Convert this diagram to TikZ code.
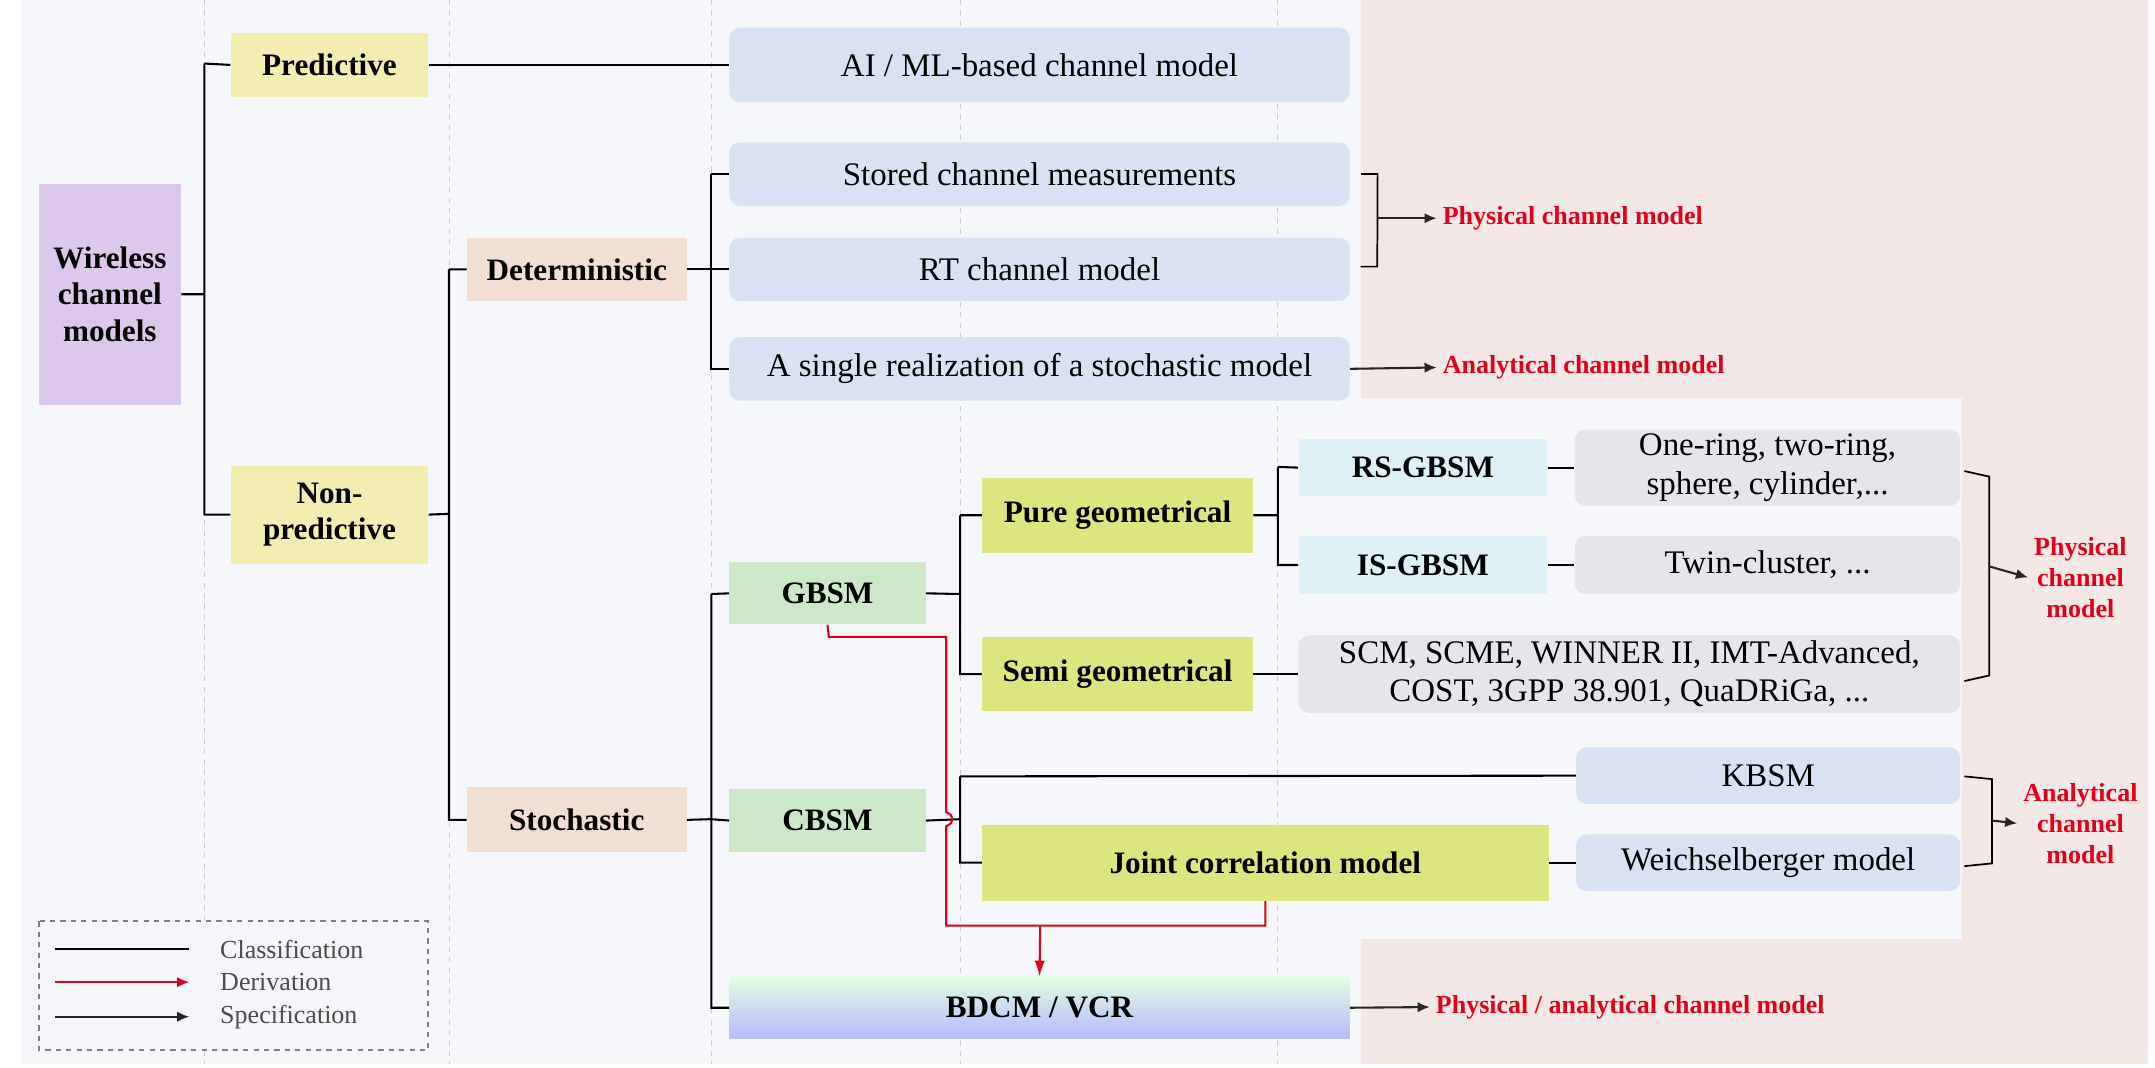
\documentclass[tikz,border=0pt]{standalone}
\usepackage{fontspec}
\setmainfont{Liberation Serif}
\usetikzlibrary{arrows.meta}

\definecolor{bgpanel}{HTML}{F5F7FA}
\definecolor{pinkbg}{HTML}{F3E8E5}
\definecolor{purplebox}{HTML}{DCC8EA}
\definecolor{yellowbox}{HTML}{F3EDB2}
\definecolor{beigebox}{HTML}{F2DED3}
\definecolor{bluebox}{HTML}{D9E2F3}
\definecolor{greenbox}{HTML}{CDE8C8}
\definecolor{limebox}{HTML}{DCE57E}
\definecolor{cyanbox}{HTML}{DDF1F7}
\definecolor{graybox}{HTML}{E4E6EB}
\definecolor{redtext}{HTML}{E0001B}

\newcommand{\unitlen}{0.028cm}
% box by its corners: name, x1, y1, x2, y2, style, text
\newcommand{\bx}[7]{%
  \node[#6, minimum width={(#4-#2)*\unitlen}, minimum height={(#5-#3)*\unitlen}]
    (#1) at ({(#2+#4)/2},{(#3+#5)/2}) {#7};}

\begin{document}
\begin{tikzpicture}[x=0.028cm, y=-0.028cm,
    base/.style={inner sep=0pt, align=center, font=\fontsize{19}{22}\selectfont},
    catbox/.style={base, fill=#1, font=\fontsize{18}{21}\selectfont\bfseries},
    leafbox/.style={base, fill=#1, rounded corners=6pt},
    redlabel/.style={text=redtext, align=center, font=\fontsize{15}{18}\selectfont\bfseries},
    classify/.style={line width=1.2pt, black},
    derive/.style={line width=1.2pt, redtext},
    specify/.style={line width=1.2pt, black!85, -{Latex[length=7pt,width=6pt]}},
    guide/.style={black!20, dashed, line width=0.4pt}]

    % panels
    \useasboundingbox (0,0) rectangle (1560,773);
    \fill[white] (0,0) rectangle (1560,773);
    \fill[bgpanel] (15,0) rectangle (1555,770);
    \fill[pinkbg] (985,0) rectangle (1555,288);
    \fill[pinkbg] (1420,288) rectangle (1555,680);
    \fill[pinkbg] (985,680) rectangle (1555,770);
    \foreach \gx in {148,325,515,695,925}
        \draw[guide] (\gx,0) -- (\gx,770);

    % boxes
    \bx{wcm}{28}{133}{131}{293}{catbox=purplebox}{Wireless\\channel\\models}
    \bx{pred}{167}{24}{310}{70}{catbox=yellowbox}{Predictive}
    \bx{nonpred}{167}{337}{310}{408}{catbox=yellowbox}{Non-\\predictive}
    \bx{det}{338}{172}{497}{218}{catbox=beigebox}{Deterministic}
    \bx{sto}{338}{570}{497}{617}{catbox=beigebox}{Stochastic}
    \bx{aiml}{528}{20}{977}{74}{leafbox=bluebox}{AI / ML-based channel model}
    \bx{stored}{528}{103}{977}{149}{leafbox=bluebox}{Stored channel measurements}
    \bx{rt}{528}{172}{977}{218}{leafbox=bluebox}{RT channel model}
    \bx{single}{528}{244}{977}{290}{leafbox=bluebox}{A single realization of a stochastic model}
    \bx{gbsm}{528}{407}{670}{452}{catbox=greenbox}{GBSM}
    \bx{cbsm}{528}{571}{670}{617}{catbox=greenbox}{CBSM}
    \bx{bdcm}{528}{707}{977}{752}{catbox=white, top color=green!12, bottom color=blue!28}{BDCM / VCR}
    \bx{pure}{711}{346}{907}{400}{catbox=limebox}{Pure geometrical}
    \bx{semi}{711}{461}{907}{515}{catbox=limebox}{Semi geometrical}
    \bx{joint}{711}{597}{1121}{652}{catbox=limebox}{Joint correlation model}
    \bx{rsgbsm}{940}{318}{1120}{359}{catbox=cyanbox}{RS-GBSM}
    \bx{isgbsm}{940}{388}{1120}{430}{catbox=cyanbox}{IS-GBSM}
    \bx{ring}{1140}{311}{1419}{366}{leafbox=graybox}{One-ring, two-ring,\\sphere, cylinder,...}
    \bx{twin}{1140}{388}{1419}{430}{leafbox=graybox}{Twin-cluster, ...}
    \bx{scm}{940}{460}{1419}{516}{leafbox=graybox}{SCM, SCME, WINNER II, IMT-Advanced,\\COST, 3GPP 38.901, QuaDRiGa, ...}
    \bx{kbsm}{1141}{541}{1419}{582}{leafbox=bluebox}{KBSM}
    \bx{weich}{1141}{604}{1419}{645}{leafbox=bluebox}{Weichselberger model}

    % classification tree
    \draw[classify] (wcm.east) -- (148,213) (148,46) |- (nonpred.west) (148,46) -- (pred.west);
    \draw[classify] (pred.east) -- (aiml.west);
    \draw[classify] (nonpred.east) -- (325,372) (325,195) |- (sto.west) (325,195) -- (det.west);
    \draw[classify] (det.east) -- (515,195) (515,126) |- (single.west) (515,126) -- (stored.west) (515,195) -- (rt.west);
    \draw[classify] (sto.east) -- (515,593) (515,430) |- (bdcm.west) (515,430) -- (gbsm.west) (515,593) -- (cbsm.west);
    \draw[classify] (gbsm.east) -- (695,430) (695,373) |- (semi.west) (695,373) -- (pure.west);
    \draw[classify] (pure.east) -- (925,373) (925,338) |- (isgbsm.west) (925,338) -- (rsgbsm.west);
    \draw[classify] (rsgbsm.east) -- (ring.west);
    \draw[classify] (isgbsm.east) -- (twin.west);
    \draw[classify] (semi.east) -- (scm.west);
    \draw[classify] (cbsm.east) -- (695,593) (695,562) |- (joint.west) (695,562) -- (kbsm.west);
    \draw[classify] (joint.east) -- (weich.west);

    % derivation
    \draw[derive] (gbsm.south) -- (600,461) -- (685,461) -- (685,588)
        .. controls (691,590) and (691,596) .. (685,598) -- (685,670) -| (joint.south);
    \draw[derive, -{Latex[length=9pt,width=6pt]}] (753,670) -- (bdcm.north);

    % specification
    \node[redlabel, anchor=west] (phys1) at (1040,158) {Physical channel model};
    \node[redlabel, anchor=west] (ana1) at (1040,266) {Analytical channel model};
    \node[redlabel] (phys2) at (1506,418) {Physical\\channel\\model};
    \node[redlabel] (ana2) at (1506,596) {Analytical\\channel\\model};
    \node[redlabel, anchor=west] (physana) at (1035,729) {Physical / analytical channel model};
    \draw[classify, line width=1pt] (stored.east) ++(8,0) -- ++(12,0) -- (997,193) -- (985,193);
    \draw[specify] (997,158) -- (phys1.west);
    \draw[specify] (single.east) -- (ana1.west);
    \draw[classify, line width=1pt] (1422,341) -- (1440,345) -- (1440,489) -- (1422,493);
    \draw[specify] (1440,410) -- (phys2.west);
    \draw[classify, line width=1pt] (1422,562) -- (1442,564) -- (1442,625) -- (1422,627);
    \draw[specify] (1442,594) -- (ana2.west);
    \draw[specify] (bdcm.east) -- (physana.west);

    % legend
    \draw[black!50, dashed, line width=1.2pt, fill=bgpanel] (28,667) rectangle (310,760);
    \draw[classify] (40,687) -- (137,687);
    \draw[derive, -{Latex[length=7pt,width=6pt]}] (40,711) -- (137,711);
    \draw[specify] (40,736) -- (137,736);
    \foreach \ly/\lt in {687/Classification,711/Derivation,736/Specification}
        \node[anchor=west, text=black!70, font=\fontsize{15}{18}\selectfont] (leg\ly) at (155,\ly) {\lt};
\end{tikzpicture}
\end{document}
